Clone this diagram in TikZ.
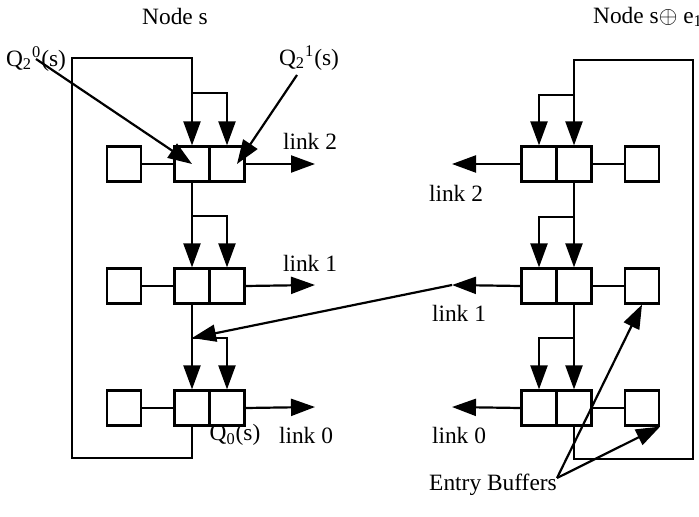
\documentclass[tikz,border=0pt]{standalone}
\usepackage{fontspec}
\setmainfont{Liberation Serif}
\usetikzlibrary{positioning,arrows.meta}

\begin{document}
\begin{tikzpicture}[x=0.5pt, y=-0.5pt, line width=1.1pt,
    cell/.style = {draw, minimum width=17.5pt, minimum height=17.5pt, inner sep=0pt},
    entry/.style = {draw, minimum width=17pt, minimum height=17.5pt, inner sep=0pt},
    lbl/.style = {inner sep=0pt, font=\fontsize{11.7}{13}\selectfont},
    arr/.style = {-{Triangle[length=12pt,width=8.5pt]}},
    node distance=17.5pt]
	\useasboundingbox (0,0) rectangle (699,517);
	% node s
	\node[cell] (a2) at (192,164) {};
	\node[cell] (b2) [right of=a2] {};
	\node[cell] (a1) [below of=a2, node distance=61pt] {};
	\node[cell] (b1) [right of=a1] {};
	\node[cell] (a0) [below of=a1, node distance=61pt] {};
	\node[cell] (b0) [right of=a0] {};
	\node[entry] (e2) [left of=a2, node distance=34pt] {};
	\node[entry] (e1) [left of=a1, node distance=34pt] {};
	\node[entry] (e0) [left of=a0, node distance=34pt] {};
	% node s+e1
	\node[cell] (c2) at (539,164) {};
	\node[cell] (d2) [right of=c2] {};
	\node[cell] (c1) [below of=c2, node distance=61pt] {};
	\node[cell] (d1) [right of=c1] {};
	\node[cell] (c0) [below of=c1, node distance=61pt] {};
	\node[cell] (d0) [right of=c0] {};
	\node[entry] (f2) [right of=d2, node distance=34pt] {};
	\node[entry] (f1) [right of=d1, node distance=34pt] {};
	\node[entry] (f0) [right of=d0, node distance=34pt] {};
	% labels
	\node[lbl] (ts) at (175,17) {Node s};
	\node[lbl, anchor=west] (tse) at (592,17) {Node s$\oplus$ e\textsubscript{1}};
	\node[lbl] (q20) at (36,59) {Q\textsubscript{2}\textsuperscript{0}(s)};
	\node[lbl] (q21) at (309,58) {Q\textsubscript{2}\textsuperscript{1}(s)};
	\node[lbl] (q0) at (235,435) {Q\textsubscript{0}(s)};
	\node[lbl] (ll2) at (310,141) {link 2};
	\node[lbl] (ll1) at (310,263) {link 1};
	\node[lbl] (ll0) at (306,435) {link 0};
	\node[lbl] (rl2) at (456,193) {link 2};
	\node[lbl] (rl1) at (459,313) {link 1};
	\node[lbl] (rl0) at (459,435) {link 0};
	\node[lbl] (eb) at (493,485) {Entry Buffers};
	% free ends
	\coordinate (lt) at (72,58);
	\coordinate (lb) at (72,458);
	\coordinate (j2) at (192,93);
	\coordinate (j1) at (192,216);
	\coordinate (j0) at (192,338);
	\coordinate (rt) at (693,60);
	\coordinate (rb) at (693,459);
	\coordinate (k2) at (574,95);
	\coordinate (k1) at (574,217);
	\coordinate (k0) at (574,338);
	\coordinate (o2) at (315,164);
	\coordinate (o1) at (315,285);
	\coordinate (o0) at (315,407);
	\coordinate (p2) at (452,164);
	\coordinate (p1) at (452,285);
	\coordinate (p0) at (452,407);
	\coordinate (q21s) at (297,75);
	\coordinate (ebs) at (557,478);
	% left side
	\draw[arr] (a0.south) |- (lb) -- (lt) -| (a2.north);
	\draw[arr] (j2) -| (b2.north);
	\draw[arr] (a2.south) -- (a1.north);
	\draw[arr] (j1) -| (b1.north);
	\draw[arr] (a1.south) -- (a0.north);
	\draw[arr] (j0) -| (b0.north);
	\draw[-] (e2) -- (a2);
	\draw[-] (e1) -- (a1);
	\draw[-] (e0) -- (a0);
	\draw[arr] (b2.east) -- (o2);
	\draw[arr] (b1.east) -- (o1);
	\draw[arr] (b0.east) -- (o0);
	% right side
	\draw[arr] (d0.south) |- (rb) -- (rt) -| (d2.north);
	\draw[arr] (k2) -| (c2.north);
	\draw[arr] (d2.south) -- (d1.north);
	\draw[arr] (k1) -| (c1.north);
	\draw[arr] (d1.south) -- (d0.north);
	\draw[arr] (k0) -| (c0.north);
	\draw[-] (f2) -- (d2);
	\draw[-] (f1) -- (d1);
	\draw[-] (f0) -- (d0);
	\draw[arr] (c2.west) -- (p2);
	\draw[arr] (c1.west) -- (p1);
	\draw[arr] (c0.west) -- (p0);
	% link 1 of s+e1 into s
	\draw[arr] (p1) -- (j0);
	% pointers
	\draw[arr] (q20.center) -- (a2.center);
	\draw[arr] (q21s) -- ([xshift=5pt]b2.center);
	\draw[arr] (ebs) -- (f1.south);
	\draw[arr] (ebs) -- (f0.south east);
\end{tikzpicture}
\end{document}
